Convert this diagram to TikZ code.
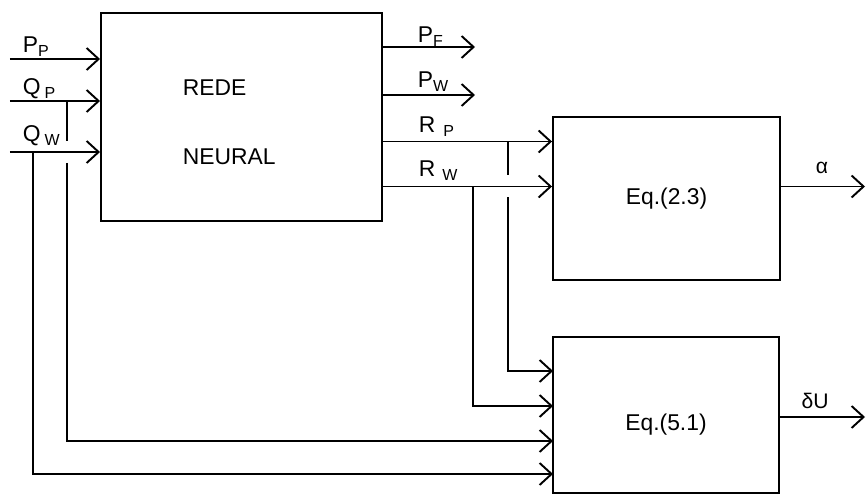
\documentclass[tikz,border=0pt]{standalone}
\usepackage{fontspec}
\setmainfont{Liberation Sans}
\usepackage{tikz}
\usetikzlibrary{arrows.meta,positioning,calc}

\begin{document}
\begin{tikzpicture}[scale=1, line width=1.1pt,
  every node/.style={font=\fontsize{13}{15}\selectfont},
  blk/.style={draw, rectangle, inner sep=0pt},
  arr/.style={-{Straight Barb[length=2.4mm,width=4.4mm]}},
  lbl/.style={anchor=base west, inner sep=0pt}]
\useasboundingbox (0,0) rectangle (17.34,9.9);

% Neural network block
\node[blk, minimum width=5.62cm, minimum height=4.16cm] (nn) at (4.83,7.56) {};
\node[lbl] (rede) at (3.64,7.98) {REDE};
\node[lbl] (neural) at (3.64,6.60) {NEURAL};

% Equation blocks
\node[blk, minimum width=4.54cm, minimum height=3.26cm] (e23) at (13.33,5.93) {Eq.(2.3)};
\node[blk, minimum width=4.52cm, minimum height=3.12cm] (e51) at (13.32,1.60) {};
\node (t51) at (13.32,1.40) {Eq.(5.1)};

% Inputs of the network
\coordinate (pp) at (0.2,8.72);
\coordinate (qp) at (0.2,7.88);
\coordinate (qw) at (0.2,6.86);
\draw[arr] (pp) -- (pp -| nn.west);
\draw[arr] (qp) -- (qp -| nn.west);
\draw[arr] (qw) -- (qw -| nn.west);
\node[lbl] (lpp) at (0.44,8.84) {P\textsubscript{P}};
\node[lbl] (lqp) at (0.44,8.00) {Q\,\textsubscript{P}};
\node[lbl] (lqw) at (0.44,7.06) {Q\,\textsubscript{W}};

% Outputs of the network
\coordinate (pf) at (9.5,8.96);
\coordinate (pw) at (9.5,8.00);
\coordinate (rp) at (10.16,7.07);
\coordinate (rw) at (9.46,6.17);
\draw[arr] (nn.east |- pf) -- (pf);
\draw[arr] (nn.east |- pw) -- (pw);
\draw[arr] (nn.east |- rp) -- (e23.west |- rp);
\draw[arr] (nn.east |- rw) -- (e23.west |- rw);
\node[lbl] (lpf) at (8.34,9.04) {P\textsubscript{F}};
\node[lbl] (lpw) at (8.34,8.14) {P\textsubscript{W}};
\node[lbl] (lrp) at (8.36,7.24) {R\hspace{0.35em}\textsubscript{P}};
\node[lbl] (lrw) at (8.36,6.36) {R\hspace{0.3em}\textsubscript{W}};

% Inputs of Eq.(5.1)
\coordinate (u1) at (11.06,2.48);
\coordinate (u2) at (11.06,1.78);
\coordinate (u3) at (11.06,1.08);
\coordinate (u4) at (11.06,0.42);
\coordinate (bqp) at (1.34,7.88);
\coordinate (bqw) at (0.66,6.86);
\draw (rp) -- ++(0,-0.68);
\draw[arr] (rp |- rw) ++(0,-0.22) |- (u1);
\draw[arr] (rw) |- (u2);
\draw (bqp) -- ++(0,-0.8);
\draw[arr] (bqp |- qw) ++(0,-0.22) |- (u3);
\draw[arr] (bqw) |- (u4);

% Outputs of the equations
\coordinate (aout) at (17.3,6.17);
\coordinate (dout) at (17.3,1.56);
\draw[arr] (e23.east |- aout) -- (aout);
\draw[arr] (e51.east |- dout) -- (dout);
\node[font=\fontsize{12}{14}\selectfont] (lal) at (16.44,6.54) {α};
\node[font=\fontsize{12}{14}\selectfont] (ldu) at (16.30,1.88) {δU};
\end{tikzpicture}
\end{document}
